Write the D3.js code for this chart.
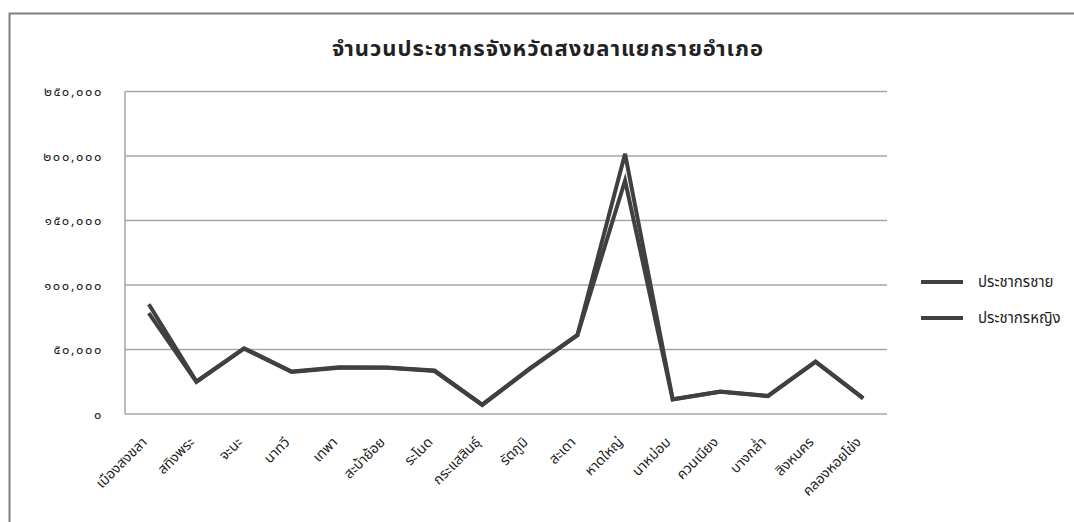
<!DOCTYPE html>
<html><head><meta charset="utf-8">
<script src="https://cdn.jsdelivr.net/npm/d3@7"></script>
<style>
body{margin:0;background:#fff;}
text{font-family:"Noto Sans Thai","Noto Sans","DejaVu Sans",sans-serif;fill:#222;}
</style></head>
<body>
<svg id="c" width="1074" height="522"></svg>
<script>
const title = "จำนวนประชากรจังหวัดสงขลาแยกรายอำเภอ";
const districts = ["เมืองสงขลา","สทิงพระ","จะนะ","นาทวี","เทพา","สะบ้าย้อย","ระโนด","กระแสสินธุ์","รัตภูมิ","สะเดา","หาดใหญ่","นาหม่อม","ควนเนียง","บางกล่ำ","สิงหนคร","คลองหอยโข่ง"];
const seriesNames = ["ประชากรชาย","ประชากรหญิง"];
const male   = [78200,24800,50600,32600,35900,35800,33300,7000,35000,61000,181000,11200,17200,13800,40400,12000];
const female = [85100,25200,51000,32900,36300,36100,33700,7200,35300,61300,201700,11500,17500,14100,40700,12300];
const yTicks = [0,50000,100000,150000,200000,250000];
const yTickLabels = ["๐","๕๐,๐๐๐","๑๐๐,๐๐๐","๑๕๐,๐๐๐","๒๐๐,๐๐๐","๒๕๐,๐๐๐"];

(function(){
const svg = d3.select("#c");
svg.append("rect").attr("x",9.5).attr("y",13.5).attr("width",1080).attr("height",520)
  .attr("fill","none").attr("stroke","#7f7f7f").attr("stroke-width",2);

const pL=125, pR=887, pT=91.5, pB=414;
const x = d3.scalePoint().domain(districts).range([pL,pR]).padding(0.5);
const y = d3.scaleLinear().domain([0,250000]).range([pB,pT]);

svg.append("g").selectAll("line").data(yTicks.slice(1)).join("line")
  .attr("x1",pL).attr("x2",pR).attr("y1",d=>y(d)).attr("y2",d=>y(d))
  .attr("stroke","#a6a6a6").attr("stroke-width",1.5);

svg.append("line").attr("x1",pL).attr("x2",pL).attr("y1",pT).attr("y2",pB)
  .attr("stroke","#a6a6a6").attr("stroke-width",1.5);
svg.append("line").attr("x1",pL).attr("x2",pR).attr("y1",pB).attr("y2",pB)
  .attr("stroke","#a6a6a6").attr("stroke-width",1.5);

svg.append("g").selectAll("text").data(yTicks).join("text")
  .attr("x",103).attr("y",d=>y(d)).attr("dy","0.35em").attr("text-anchor","end")
  .attr("font-size",13).attr("letter-spacing","1.6px").attr("fill","#333").text((d,i)=>yTickLabels[i]);

svg.append("g").selectAll("text").data(districts).join("text")
  .attr("transform",d=>`translate(${x(d)-1},${pB+29}) rotate(-45)`)
  .attr("text-anchor","end").attr("font-size",14).attr("fill","#222").text(d=>d);

const line = d3.line().x((d,i)=>x(districts[i])).y(d=>y(d));
[male,female].forEach(s=>{
  svg.append("path").datum(s).attr("d",line).attr("fill","none")
    .attr("stroke","#404040").attr("stroke-width",4).attr("stroke-linejoin","miter");
});

svg.append("text").attr("x",548).attr("y",56).attr("text-anchor","middle")
  .attr("font-size",22).attr("font-weight","bold").attr("letter-spacing","1px")
  .attr("fill","#222").text(title);

seriesNames.forEach((n,i)=>{
  const ly = 282 + i*36;
  svg.append("line").attr("x1",921).attr("x2",963).attr("y1",ly).attr("y2",ly)
    .attr("stroke","#404040").attr("stroke-width",4);
  svg.append("text").attr("x",978).attr("y",ly).attr("dy","0.35em")
    .attr("font-size",15).attr("fill","#222").text(n);
});
})();
</script>
</body></html>
